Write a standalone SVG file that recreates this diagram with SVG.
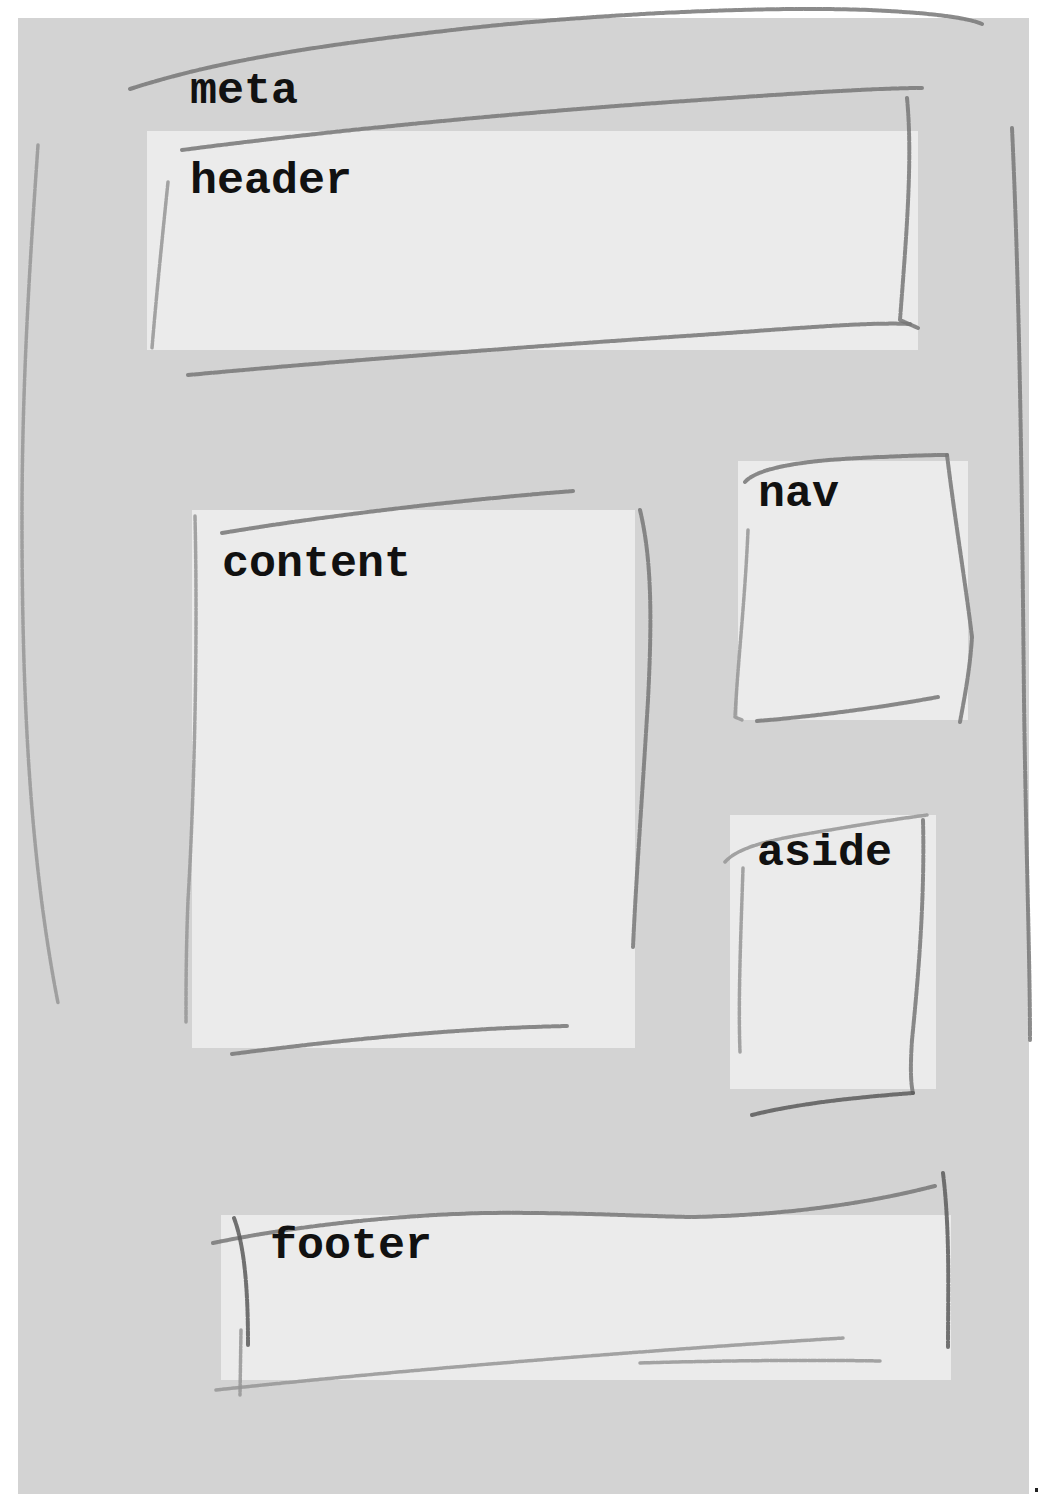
<svg xmlns="http://www.w3.org/2000/svg" width="1039" height="1494" viewBox="0 0 1039 1494">
<style>
.box{fill:#ebebeb}
.lbl{font-family:"Liberation Mono","Courier New",monospace;font-weight:bold;font-size:45px;fill:#111}
.pen{fill:none;stroke:#777777;stroke-width:4;stroke-linecap:round;stroke-linejoin:round;stroke-dasharray:5 1.5 2 1;opacity:0.85}
.pen.light{stroke:#959595;stroke-width:3.5}
.pen.dark{stroke:#5a5a5a}
</style>
<rect x="0" y="0" width="1039" height="1494" fill="#ffffff"/>
<rect x="18" y="18" width="1011" height="1476" fill="#d3d3d3"/>
<rect x="1035" y="1488" width="3" height="4" fill="#222"/>

<g id="page-strokes">
<path class="pen" d="M130 89 C 220 60 320 45 470 28 C 600 14 760 6 870 10 C 930 13 965 17 982 24"/>
<path class="pen light" d="M38 145 C 30 260 22 380 22 520 C 22 700 30 860 58 1003"/>
<path class="pen" d="M1012 128 C 1020 300 1022 500 1024 700 C 1026 850 1030 960 1030 1040"/>
</g>

<g id="meta">
<text class="lbl" x="190" y="103">meta</text>
</g>

<g id="header">
<rect class="box" x="147" y="131" width="771" height="219"/>
<path class="pen" d="M182 150 C 350 128 550 110 700 100 C 800 93 880 88 922 88"/>
<path class="pen" d="M907 98 C 913 160 906 240 900 320 L 918 328"/>
<path class="pen" d="M188 375 C 350 360 550 345 700 335 C 800 328 870 322 910 324"/>
<path class="pen light" d="M168 182 C 162 240 156 300 152 348"/>
<text class="lbl" x="190" y="193">header</text>
</g>

<g id="content">
<rect class="box" x="192" y="510" width="443" height="538"/>
<path class="pen" d="M222 533 C 330 515 460 500 573 491"/>
<path class="pen" d="M640 510 C 652 560 652 620 648 700 C 642 800 636 880 633 947"/>
<path class="pen light" d="M195 516 C 198 650 194 800 188 900 C 186 950 186 990 186 1022"/>
<path class="pen" d="M232 1054 C 340 1040 460 1028 567 1026"/>
<text class="lbl" x="222" y="576">content</text>
</g>

<g id="nav">
<rect class="box" x="738" y="461" width="230" height="259"/>
<path class="pen" d="M745 482 C 760 465 820 460 860 458 C 900 456 930 455 947 455"/>
<path class="pen" d="M947 455 C 955 520 965 580 972 637 C 970 670 964 700 960 722"/>
<path class="pen light" d="M748 530 C 745 600 738 660 735 717 L 742 720"/>
<path class="pen" d="M757 721 C 820 716 890 706 938 697"/>
<text class="lbl" x="758" y="506">nav</text>
</g>

<g id="aside">
<rect class="box" x="730" y="815" width="206" height="274"/>
<path class="pen light" d="M725 862 C 740 845 780 838 830 830 C 870 823 905 818 927 815"/>
<path class="pen" d="M923 820 C 925 900 918 980 912 1040 C 910 1070 911 1085 913 1093"/>
<path class="pen light" d="M743 868 C 741 930 738 1000 740 1052"/>
<path class="pen dark" d="M752 1115 C 800 1103 860 1097 913 1093"/>
<text class="lbl" x="757" y="865">aside</text>
</g>

<g id="footer">
<rect class="box" x="221" y="1215" width="730" height="165"/>
<path class="pen" d="M213 1243 C 300 1225 400 1215 486 1213 C 560 1212 640 1216 690 1217 C 800 1215 880 1200 935 1186"/>
<path class="pen dark" d="M943 1173 C 950 1230 948 1290 948 1347"/>
<path class="pen dark" d="M234 1218 C 246 1250 248 1300 248 1345"/>
<path class="pen light" d="M216 1390 C 400 1370 650 1350 843 1338"/>
<path class="pen light" d="M640 1363 C 740 1360 830 1360 880 1361"/>
<path class="pen light" d="M241 1330 L 240 1395"/>
<text class="lbl" x="270" y="1258">footer</text>
</g>
</svg>
